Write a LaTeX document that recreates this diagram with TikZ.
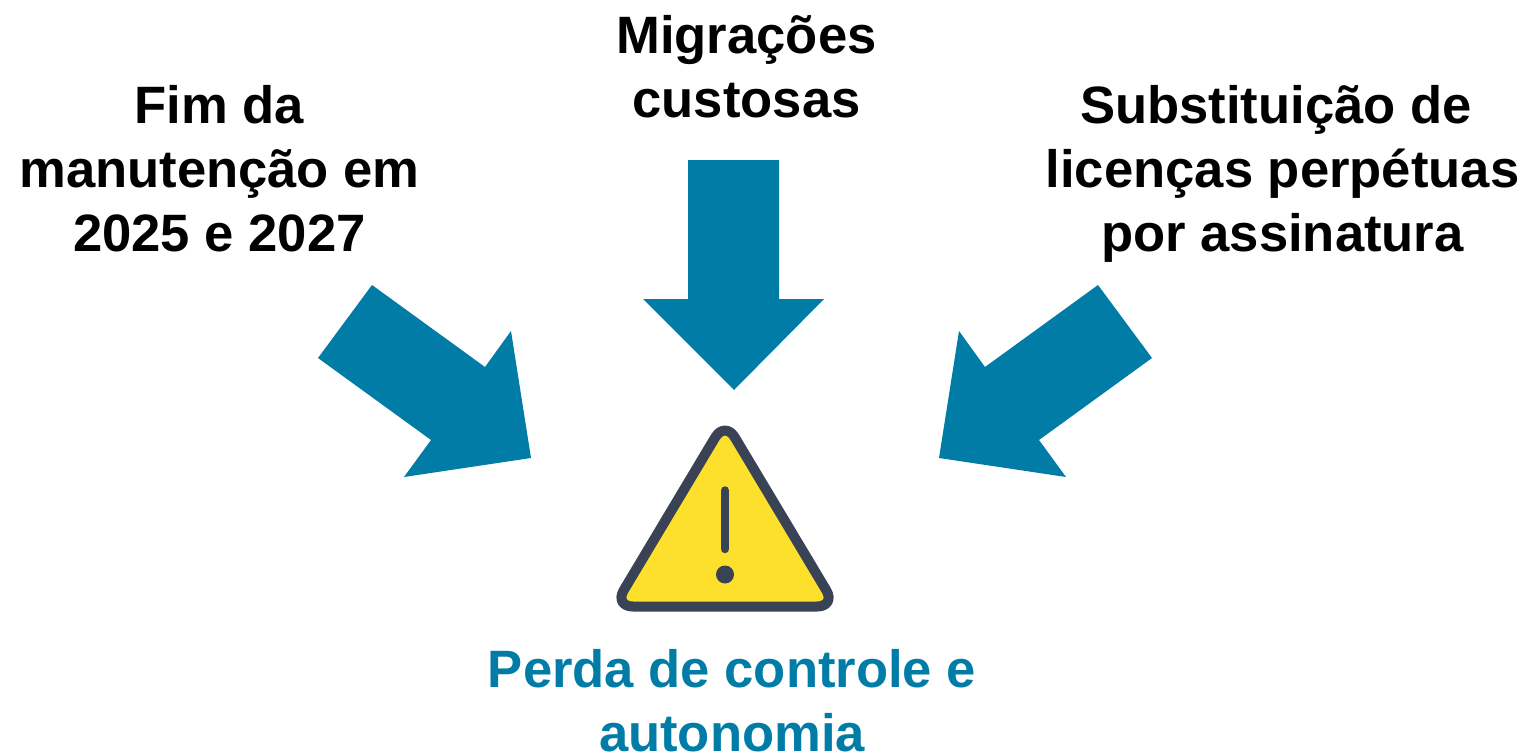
\documentclass[tikz,border=0pt]{standalone}
\usepackage{fontspec}
\setmainfont{Liberation Sans}
\definecolor{teal}{HTML}{007CA6}
\definecolor{warnfill}{HTML}{FCE02C}
\definecolor{warnline}{HTML}{3A4256}
\tikzset{
  label/.style={font=\fontsize{52.6}{64}\selectfont\bfseries, align=center, inner sep=0pt, anchor=center},
  blockarrow/.style={fill=teal, draw=none}
}
\begin{document}
\begin{tikzpicture}[x=1pt,y=-1pt]
\useasboundingbox (0,0) rectangle (1524,752);
\node[label] (left) at (219.5,169) {Fim da\\manutenção em\\2025 e 2027};
\node[label] (mid) at (746.5,67) {Migrações\\custosas};
\node[label] (right) at (1282.5,174) {Substituição de\hspace*{13pt}\\licenças perpétuas\\por assinatura};
\node[label,text=teal] (result) at (732,700.5) {Perda de controle e\\autonomia};
\fill[blockarrow] (688,160) -- (779,160) -- (779,299) -- (824,299) -- (734,390) -- (643,299) -- (688,299) -- cycle;
\fill[blockarrow] (372,285) -- (485,367) -- (511,331) -- (531,458) -- (404,477) -- (431,440) -- (318,358) -- cycle;
\fill[blockarrow] (1098,285) -- (985,367) -- (959,331) -- (939,458) -- (1066,477) -- (1039,440) -- (1152,358) -- cycle;
\draw[warnline, fill=warnfill, line width=10pt, line join=round, rounded corners=19pt]
  (725,421) -- (836,606.5) -- (614,606.5) -- cycle;
\draw[warnline, line width=8.5pt, line cap=round] (725,490.5) -- (725,549);
\fill[warnline] (725,574.5) circle (9);
\end{tikzpicture}
\end{document}
